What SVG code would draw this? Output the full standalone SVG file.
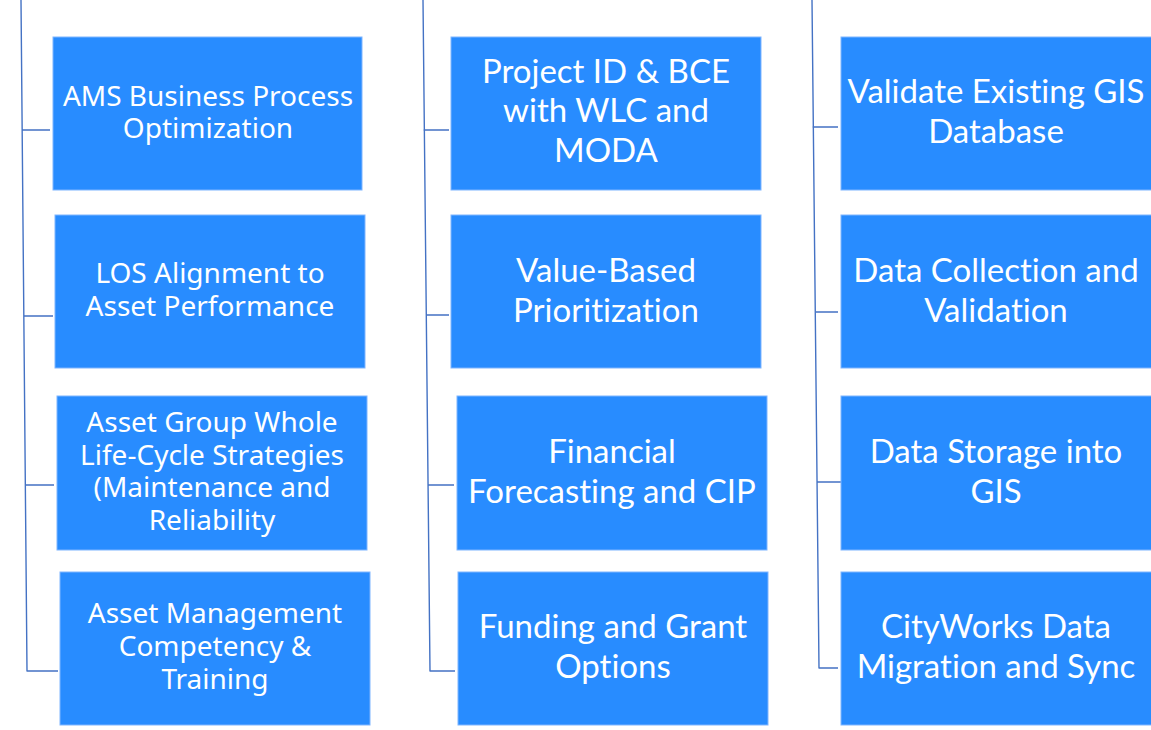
<svg xmlns="http://www.w3.org/2000/svg" width="1151" height="730" viewBox="0 0 1151 730">
<style>
.box{fill:#288cff;stroke:#7fb5ff;stroke-width:1}
.c{stroke:#4472c4;stroke-width:1.4;fill:none}
.t1{font-family:"Noto Sans","Open Sans",sans-serif;font-size:28px;fill:#fff;text-anchor:middle}
.t2{font-family:Lato,"Liberation Sans",sans-serif;font-size:33px;fill:#fff;text-anchor:middle;font-variant-ligatures:none}
</style>
<rect width="1151" height="730" fill="#fff"/>
<g id="connectors">
<path class="c" d="M21,0 L27,671 M21.5,130 H50 M24,316 H53 M25.5,485 H54 M26.5,671 H58"/>
<path class="c" d="M423,0 L430,671 M423.5,130 H449 M427,315 H449 M428.5,485 H454 M429.5,671 H455"/>
<path class="c" d="M812,0 L819,668 M812.5,127 H838 M816,312 H838 M817.5,482 H841 M818.5,668 H838"/>
</g>
<g id="n1"><rect class="box" x="53" y="37" width="309" height="153"/><text class="t1" x="208"><tspan x="208" y="106">AMS Business Process</tspan><tspan x="208" y="138">Optimization</tspan></text></g>
<g id="n2"><rect class="box" x="55" y="215" width="310" height="153"/><text class="t1"><tspan x="210" y="283">LOS Alignment to</tspan><tspan x="210" y="316">Asset Performance</tspan></text></g>
<g id="n3"><rect class="box" x="57" y="396" width="310" height="154"/><text class="t1"><tspan x="212" y="432">Asset Group Whole</tspan><tspan x="212" y="465">Life-Cycle Strategies</tspan><tspan x="212" y="497">(Maintenance and</tspan><tspan x="212" y="530">Reliability</tspan></text></g>
<g id="n4"><rect class="box" x="60" y="572" width="310" height="153"/><text class="t1"><tspan x="215" y="623">Asset Management</tspan><tspan x="215" y="656">Competency &amp;</tspan><tspan x="215" y="689">Training</tspan></text></g>
<g id="n5"><rect class="box" x="451" y="37" width="310" height="153"/><text class="t2"><tspan x="606" y="83">Project ID &amp; BCE</tspan><tspan x="606" y="122">with WLC and</tspan><tspan x="606" y="162">MODA</tspan></text></g>
<g id="n6"><rect class="box" x="451" y="215" width="310" height="153"/><text class="t2"><tspan x="606" y="282">Value-Based</tspan><tspan x="606" y="322">Prioritization</tspan></text></g>
<g id="n7"><rect class="box" x="457" y="396" width="310" height="154"/><text class="t2"><tspan x="612" y="463">Financial</tspan><tspan x="612" y="503">Forecasting and CIP</tspan></text></g>
<g id="n8"><rect class="box" x="458" y="572" width="310" height="153"/><text class="t2"><tspan x="613" y="638">Funding and Grant</tspan><tspan x="613" y="678">Options</tspan></text></g>
<g id="n9"><rect class="box" x="841" y="37" width="312" height="153"/><text class="t2"><tspan x="996" y="103">Validate Existing GIS</tspan><tspan x="996" y="143">Database</tspan></text></g>
<g id="n10"><rect class="box" x="841" y="215" width="312" height="153"/><text class="t2"><tspan x="996" y="282">Data Collection and</tspan><tspan x="996" y="322">Validation</tspan></text></g>
<g id="n11"><rect class="box" x="841" y="396" width="312" height="154"/><text class="t2"><tspan x="996" y="463">Data Storage into</tspan><tspan x="996" y="503">GIS</tspan></text></g>
<g id="n12"><rect class="box" x="841" y="572" width="312" height="153"/><text class="t2"><tspan x="996" y="638">CityWorks Data</tspan><tspan x="996" y="678">Migration and Sync</tspan></text></g>
</svg>
